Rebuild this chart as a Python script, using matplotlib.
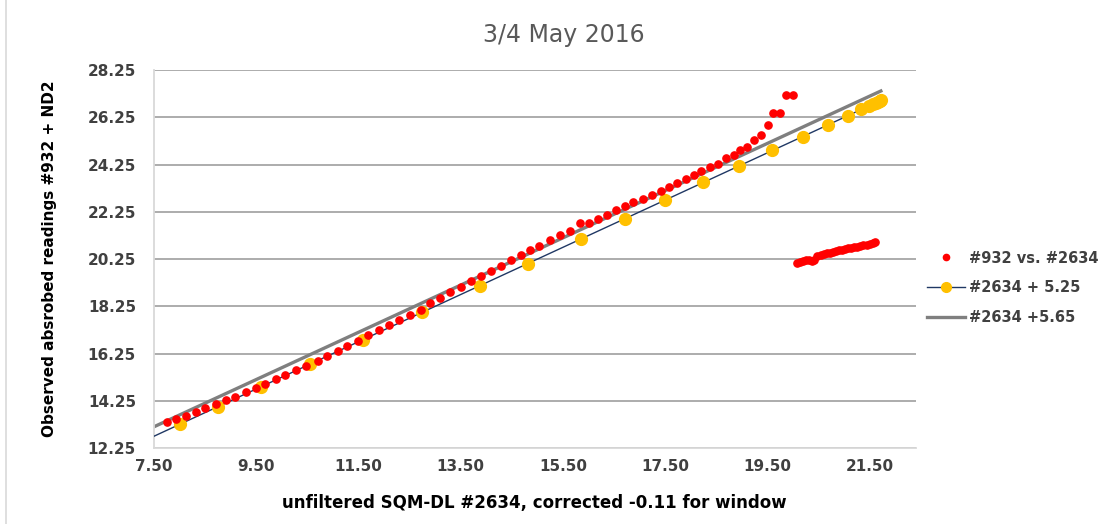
import matplotlib

matplotlib.use("Agg")
import matplotlib.pyplot as plt
from matplotlib.lines import Line2D

# --- data ----------------------------------------------------------------------------------
# #932 (absorbed, + ND2) against unfiltered #2634, main track
RED_X = [7.75, 7.93, 8.13, 8.32, 8.50, 8.71, 8.91, 9.09, 9.30, 9.49,
         9.67, 9.89, 10.07, 10.28, 10.47, 10.70, 10.89, 11.10, 11.28, 11.49,
         11.69, 11.90, 12.09, 12.30, 12.50, 12.72, 12.90, 13.10, 13.29, 13.50,
         13.70, 13.89, 14.09, 14.28, 14.48, 14.68, 14.86, 15.04, 15.24, 15.45,
         15.64, 15.84, 16.01, 16.18, 16.36, 16.54, 16.72, 16.88, 17.06, 17.25,
         17.41, 17.57, 17.74, 17.91, 18.07, 18.20, 18.37, 18.53, 18.69, 18.84,
         18.97, 19.11, 19.23, 19.38, 19.52, 19.61, 19.75, 19.86, 20.01]
RED_Y = [13.36, 13.48, 13.61, 13.76, 13.93, 14.10, 14.27, 14.42, 14.61, 14.78,
         14.95, 15.16, 15.34, 15.55, 15.72, 15.95, 16.15, 16.36, 16.57, 16.78,
         17.03, 17.25, 17.47, 17.69, 17.89, 18.10, 18.39, 18.62, 18.85, 19.07,
         19.31, 19.53, 19.75, 19.97, 20.20, 20.43, 20.64, 20.82, 21.05, 21.26,
         21.44, 21.77, 21.77, 21.94, 22.11, 22.33, 22.52, 22.66, 22.80, 22.97,
         23.14, 23.31, 23.48, 23.65, 23.82, 23.99, 24.16, 24.27, 24.55, 24.67,
         24.85, 25.00, 25.29, 25.51, 25.91, 26.43, 26.43, 27.18, 27.18]
# second (lower) red cluster
RED2_X = [20.08, 20.14, 20.20, 20.26, 20.32, 20.38, 20.42, 20.48, 20.54, 20.60,
          20.66, 20.72, 20.78, 20.84, 20.90, 20.96, 21.02, 21.08, 21.14, 21.20,
          21.26, 21.32, 21.38, 21.44, 21.50, 21.56, 21.60]
RED2_Y = [20.08, 20.12, 20.17, 20.20, 20.20, 20.19, 20.20, 20.38, 20.42, 20.46,
          20.50, 20.53, 20.56, 20.58, 20.62, 20.64, 20.67, 20.70, 20.72, 20.75,
          20.78, 20.80, 20.83, 20.86, 20.89, 20.93, 20.98]

# #2634 readings (first one lies left of the axis and is clipped)
SQM_X = [7.30, 8.01, 8.75, 9.59, 10.55, 11.58, 12.74, 13.88, 14.81, 15.86,
         16.72, 17.50, 18.25, 18.95, 19.60, 20.19, 20.68, 21.07, 21.34, 21.48,
         21.57, 21.63, 21.67, 21.70, 21.72]
OFFSET_A = 5.25
OFFSET_B = 5.65

XTICKS = [7.50, 9.50, 11.50, 13.50, 15.50, 17.50, 19.50, 21.50]
YTICKS = [12.25, 14.25, 16.25, 18.25, 20.25, 22.25, 24.25, 26.25, 28.25]

# --- style ---------------------------------------------------------------------------------
FONT = ["DejaVu Sans"]
INK = "#404040"
GRID = "#a6a6a6"
AXIS = "#d9d9d9"
RED = "#ff0000"
GOLD = "#ffc000"
NAVY = "#203864"
GREY = "#7f7f7f"

plt.rcParams["font.family"] = FONT

fig = plt.figure(figsize=(11.2, 5.24), dpi=100)
fig.patch.set_facecolor("white")
ax = fig.add_axes([0.1375, 0.145, 0.68, 0.721])

ya = [x + OFFSET_A for x in SQM_X]
yb = [x + OFFSET_B for x in SQM_X]

ax.plot(SQM_X, yb, color=GREY, lw=2.4, zorder=2)
ax.plot(SQM_X, ya, color=NAVY, lw=1.0, zorder=3)
ax.plot(SQM_X, ya, ls="none", marker="o", ms=8.5, mfc=GOLD, mec=GOLD, zorder=4)
ax.plot(RED_X, RED_Y, ls="none", marker="o", ms=5.2, mfc=RED, mec=RED, zorder=5)
ax.plot(RED2_X, RED2_Y, ls="none", marker="o", ms=5.2, mfc=RED, mec=RED, zorder=5)

ax.set_xlim(7.5, 22.4)
ax.set_ylim(12.25, 28.25)
ax.set_xticks(XTICKS)
ax.set_yticks(YTICKS)
ax.set_xticklabels([f"{v:.2f}" for v in XTICKS])
ax.set_yticklabels([f"{v:.2f}" for v in YTICKS])
ax.tick_params(length=0, labelsize=11, labelcolor=INK)
ax.tick_params(axis="x", pad=8)
ax.tick_params(axis="y", pad=13)
for lab in ax.get_xticklabels() + ax.get_yticklabels():
    lab.set_fontweight("bold")

ax.yaxis.grid(True, color=GRID, lw=1.3)
ax.set_axisbelow(True)
for side in ["top", "right"]:
    ax.spines[side].set_visible(False)
for side in ["left", "bottom"]:
    ax.spines[side].set_color(AXIS)
    ax.spines[side].set_linewidth(1.3)

ax.set_xlabel("unfiltered SQM-DL #2634, corrected -0.11 for window",
              fontsize=12, fontweight="bold", color="black")
ax.set_ylabel("Observed absrobed readings #932 + ND2",
              fontsize=11, fontweight="bold", color="black")
ax.xaxis.set_label_coords(0.5, -0.122)
ax.yaxis.set_label_coords(-0.128, 0.5)

fig.text(0.5036, 0.933, "3/4 May 2016", fontsize=17, color="#595959",
         ha="center", va="center")

handles = [
    Line2D([], [], ls="none", marker="o", ms=4.5, mfc=RED, mec=RED),
    Line2D([], [], color=NAVY, lw=1.0, marker="o", ms=7, mfc=GOLD, mec=GOLD),
    Line2D([], [], color=GREY, lw=2.4),
]
labels = ["#932 vs. #2634", "#2634 + 5.25", "#2634 +5.65"]
leg = fig.legend(handles, labels, loc="center left", bbox_to_anchor=(0.816, 0.451),
                 frameon=False, handlelength=2.6, labelspacing=1.0,
                 handletextpad=0.3, prop={"family": FONT, "weight": "bold", "size": 10.5})
for t in leg.get_texts():
    t.set_color(INK)

# chart-area border on the left edge, as in the source screenshot
fig.add_artist(Line2D([0.0055, 0.0055], [0.0, 1.0], color=AXIS, lw=1.2))

fig.savefig("out.png", dpi=100, facecolor="white")
